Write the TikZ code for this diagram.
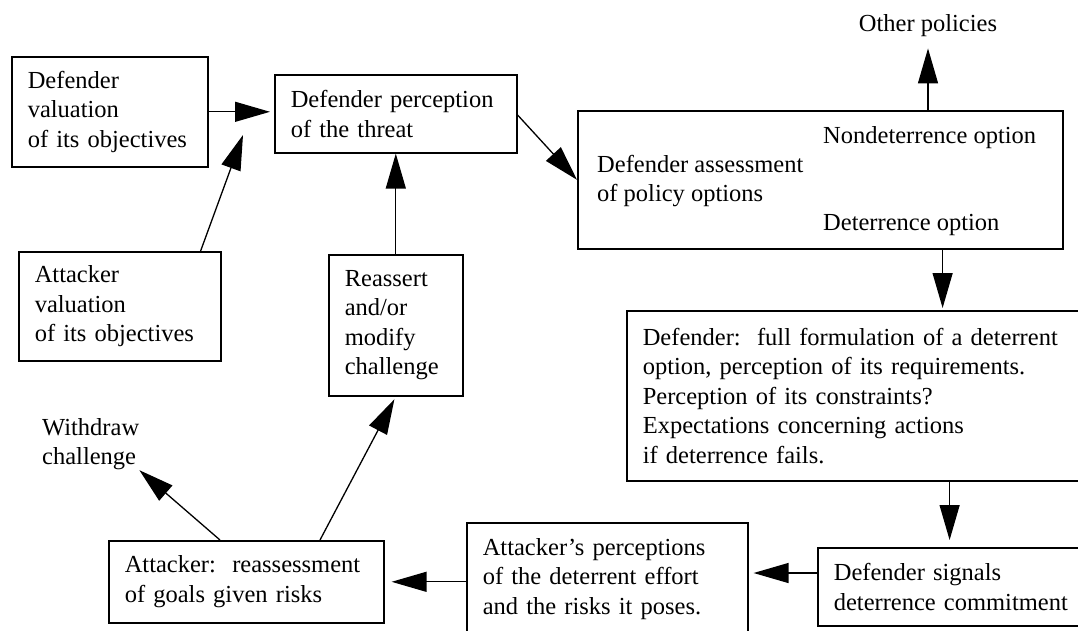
\documentclass[tikz,border=0pt]{standalone}
\usepackage{fontspec}
\setmainfont{Liberation Serif}
\usetikzlibrary{calc,arrows.meta}
\tikzset{
  blk/.style={draw=black, line width=1.6pt, rectangle, anchor=north west, align=left,
    inner xsep=16pt, inner ysep=0pt, font=\fontsize{24.5}{29.5}\selectfont},
  lbl/.style={inner sep=0pt, align=left, font=\fontsize{24.5}{29.5}\selectfont},
  arr/.style={draw=black, line width=1.3pt, -{Triangle[length=35pt,width=20pt]}},
}

\begin{document}
\begin{tikzpicture}[x=1pt, y=-1pt]
  \useasboundingbox (0,0) rectangle (1078,630);

  % defender side
  \node[blk, text width=164pt, minimum height=110pt] (A) at (11,56) {Defender\\valuation\\of its objectives};
  \node[blk, text width=210pt, minimum height=78pt] (B) at (274,74) {Defender perception\\of the threat};
  \node[blk, minimum width=485pt, minimum height=138pt] (C) at (577,110) {};
  \node[lbl, anchor=north west] (Cmain) at ($(C.north west)+(20,45)$) {Defender assessment\\of policy options};
  \node[lbl, anchor=base west] (nondet) at ($(C.north west)+(246,33)$) {Nondeterrence option};
  \node[lbl, anchor=base west] (det) at ($(C.south west)+(246,-19)$) {Deterrence option};
  \node[lbl, anchor=base] (O) at (928,31) {Other policies};
  \node[blk, text width=420pt, minimum height=170pt] (D) at (626,310) {Defender:\ \ full formulation of a deterrent\\option, perception of its requirements.\\Perception of its constraints?\\Expectations concerning actions\\if deterrence fails.};
  \node[blk, text width=246pt, minimum height=78pt] (E) at (817,547) {Defender signals\\deterrence commitment};

  % attacker side
  \node[blk, text width=249pt, minimum height=112pt] (F) at (466,522) {Attacker's perceptions\\of the deterrent effort\\and the risks it poses.};
  \node[blk, text width=243pt, minimum height=82pt] (G) at (108,540) {Attacker:\ \ reassessment\\of goals given risks};
  \node[blk, text width=102pt, minimum height=141pt] (H) at (328,254) {Reassert\\and/or\\modify\\challenge};
  \node[blk, text width=170pt, minimum height=109pt] (I) at (18,251) {Attacker\\valuation\\of its objectives};
  \node[lbl, anchor=north west] (W) at (42,418) {Withdraw\\challenge};

  \coordinate (meet) at (243,135);

  \draw[arr, shorten >=4pt] (A.east) -- (A.east -| B.west);
  \draw[arr] ($(I.north east)+(-21,0)$) -- (meet);
  \draw[arr] ($(B.north east)+(0,41)$) -- (C.west);
  \draw[arr, shorten >=12pt] (C.north -| O) -- (O.south);
  \draw[arr, shorten >=2pt] ($(C.south east)+(-121,0)$) coordinate (cd) -- (cd |- D.north);
  \draw[arr, shorten >=7pt] ($(D.south east)+(-130,0)$) coordinate (de) -- (de |- E.north);
  \draw[arr, shorten >=5pt] ($(E.north west)+(0,26)$) coordinate (ef) -- (ef -| F.east);
  \draw[arr, shorten >=7pt] (G.east -| F.west) -- (G.east);
  \draw[arr, shorten >=3pt] ($(G.north west)+(212,0)$) -- (H.south);
  \draw[arr] (H.north) -- (H.north |- B.south);
  \draw[arr] ($(G.north west)+(112,0)$) -- (W.south east);
\end{tikzpicture}
\end{document}
